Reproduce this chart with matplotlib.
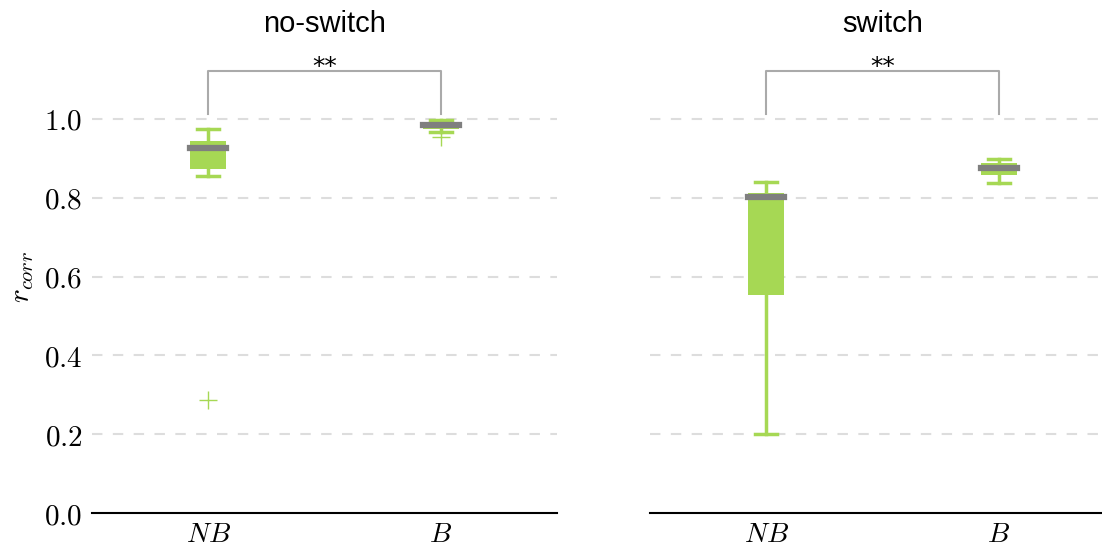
import matplotlib.pyplot as plt

plt.rcParams['mathtext.fontset'] = 'cm'

# values
panels = ["no-switch", "switch"]
groups = ["NB", "B"]
whislo = [[0.855, 0.968], [0.200, 0.838]]
q1 = [[0.873, 0.975], [0.553, 0.858]]
med = [[0.926, 0.985], [0.802, 0.876]]
q3 = [[0.944, 0.990], [0.812, 0.888]]
whishi = [[0.975, 0.997], [0.840, 0.898]]
fliers = [[[0.287], [0.955]], [[], []]]
signif = ["**", "**"]
yticks = [0.0, 0.2, 0.4, 0.6, 0.8, 1.0]

green = "#a6d854"
grey = "#7f7f7f"

fig = plt.figure(figsize=(11.02, 5.46), dpi=100)
axes = [fig.add_axes([0.0835, 0.0604, 0.422, 0.866]),
        fig.add_axes([0.5898, 0.0604, 0.422, 0.866])]

for p, ax in enumerate(axes):
    stats = []
    for g in range(len(groups)):
        stats.append(dict(whislo=whislo[p][g], q1=q1[p][g], med=med[p][g],
                          q3=q3[p][g], whishi=whishi[p][g], fliers=fliers[p][g]))
    ax.bxp(stats, positions=range(len(groups)), widths=0.155, patch_artist=True,
           showfliers=True, capwidths=0.095,
           boxprops=dict(facecolor=green, edgecolor=green, linewidth=0),
           whiskerprops=dict(color=green, linewidth=2.5),
           capprops=dict(color=green, linewidth=2.5),
           medianprops=dict(color=grey, linewidth=4.5, solid_capstyle="projecting"),
           flierprops=dict(marker="+", markeredgecolor=green, markersize=13,
                           markeredgewidth=1.0))

    # significance bracket
    y0, y1 = 1.013, 1.122
    ax.plot([0, 0, 1, 1], [y0, y1, y1, y0], color="#aaaaaa", lw=1.5,
            clip_on=False)
    ax.text(0.5, 1.113, signif[p], ha="center", va="baseline", fontsize=18)

    ax.set_xlim(-0.5, 1.5)
    ax.set_ylim(0, 1.2)
    ax.set_xticks(range(len(groups)))
    ax.set_xticklabels(["$%s$" % s for s in groups], fontsize=20)
    ax.set_yticks(yticks)
    if p == 0:
        ax.set_yticklabels([r"$\mathrm{%.1f}$" % v for v in yticks], fontsize=21)
        ax.set_ylabel("$r_{corr}$", fontsize=21, labelpad=6)
    else:
        ax.set_yticklabels([])
    ax.tick_params(axis="y", length=0, pad=7)
    ax.tick_params(axis="x", length=0, pad=5)
    ax.set_title(panels[p], fontsize=21, pad=6, family="Liberation Sans")
    for y in yticks[1:]:
        ax.axhline(y, color="#dddddd", lw=1.5, ls=(0, (5, 5)), zorder=0)
    for s in ["left", "right", "top"]:
        ax.spines[s].set_visible(False)
    ax.spines["bottom"].set_linewidth(1.5)

fig.savefig("out.png", dpi=100)
